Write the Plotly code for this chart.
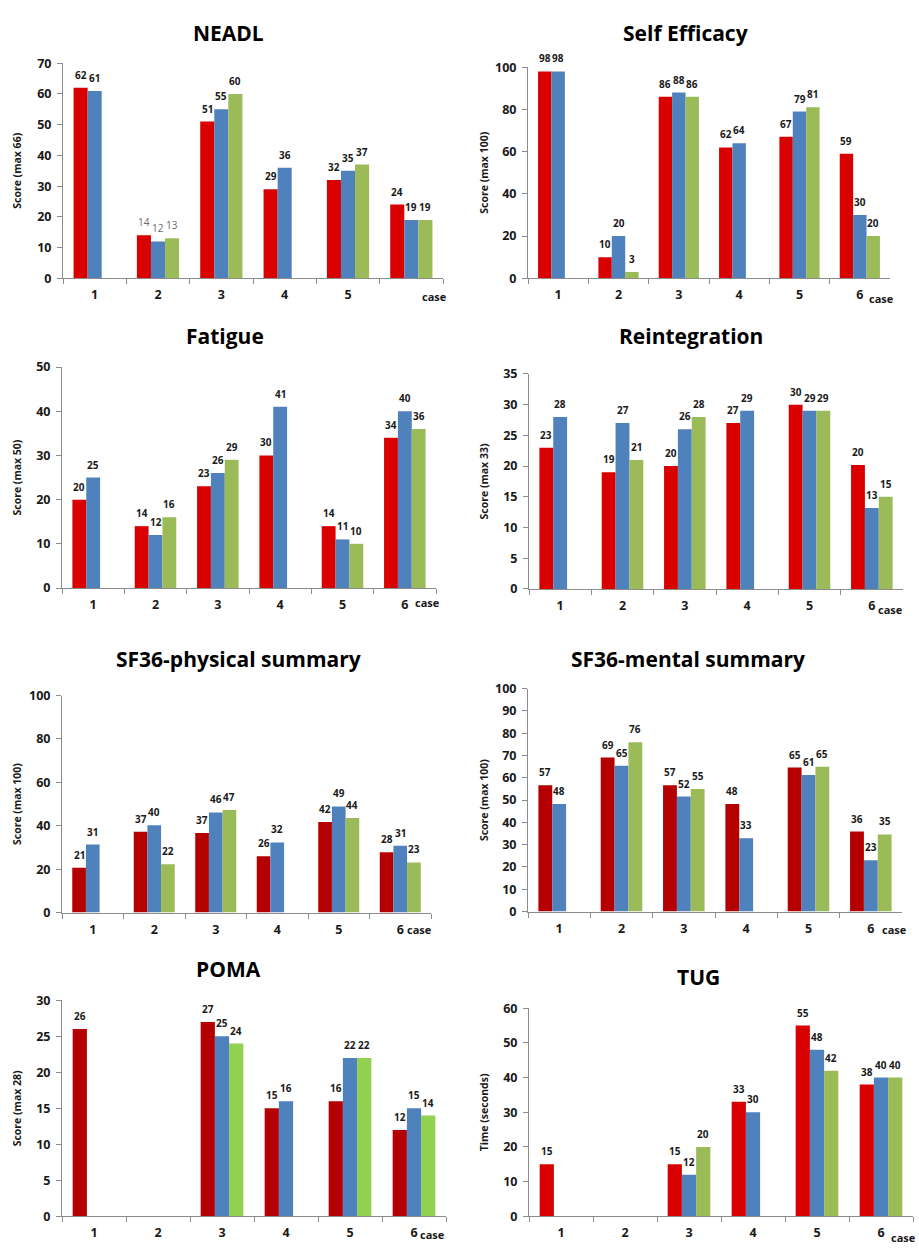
import plotly.graph_objects as go

W, H = 919, 1249

CASES = ["1", "2", "3", "4", "5", "6"]
NEADL_TICKS = ["1", "2", "3", "4", "5", ""]

TITLES = ["NEADL", "Self Efficacy", "Fatigue", "Reintegration",
          "SF36-physical summary", "SF36-mental summary", "POMA", "TUG"]
YTITLES = ["Score (max 66)", "Score (max 100)", "Score (max 50)", "Score (max 33)",
           "Score (max 100)", "Score (max 100)", "Score (max 28)", "Time (seconds)"]

NEADL_RED = [62, 14, 51, 29, 32, 24]
NEADL_BLUE = [61, 12, 55, 36, 35, 19]
NEADL_GREEN = [None, 13, 60, None, 37, 19]

SELF_RED = [98, 10, 86, 62, 67, 59]
SELF_BLUE = [98, 20, 88, 64, 79, 30]
SELF_GREEN = [None, 3, 86, None, 81, 20]

FATIGUE_RED = [20, 14, 23, 30, 14, 34]
FATIGUE_BLUE = [25, 12, 26, 41, 11, 40]
FATIGUE_GREEN = [None, 16, 29, None, 10, 36]

REINT_RED = [23, 19, 20, 27, 30, 20.2]
REINT_BLUE = [28, 27, 26, 29, 29, 13.2]
REINT_GREEN = [None, 21, 28, None, 29, 15]

SF36P_RED = [20.6, 37.2, 36.6, 25.9, 41.7, 27.8]
SF36P_BLUE = [31.3, 40.2, 46.1, 32.3, 48.9, 30.8]
SF36P_GREEN = [None, 22.3, 47.3, None, 43.6, 23.1]

SF36M_RED = [56.6, 69.1, 56.6, 48.2, 64.6, 35.9]
SF36M_BLUE = [48.2, 65.4, 51.6, 32.9, 61.2, 23.0]
SF36M_GREEN = [None, 75.9, 55.0, None, 64.9, 34.6]

POMA_RED = [26, None, 27, 15, 16, 12]
POMA_BLUE = [None, None, 25, 16, 22, 15]
POMA_GREEN = [None, None, 24, None, 22, 14]

TUG_RED = [15, None, 15, 33, 55, 38]
TUG_BLUE = [None, None, 12, 30, 48, 40]
TUG_GREEN = [None, None, 20, None, 42, 40]

SERIES = [
    (NEADL_RED, NEADL_BLUE, NEADL_GREEN),
    (SELF_RED, SELF_BLUE, SELF_GREEN),
    (FATIGUE_RED, FATIGUE_BLUE, FATIGUE_GREEN),
    (REINT_RED, REINT_BLUE, REINT_GREEN),
    (SF36P_RED, SF36P_BLUE, SF36P_GREEN),
    (SF36M_RED, SF36M_BLUE, SF36M_GREEN),
    (POMA_RED, POMA_BLUE, POMA_GREEN),
    (TUG_RED, TUG_BLUE, TUG_GREEN),
]
Y_MAX = [70, 100, 50, 35, 100, 100, 30, 60]
Y_STEP = [10, 20, 10, 5, 20, 10, 5, 10]
TICKS = [NEADL_TICKS, CASES, CASES, CASES, CASES, CASES, CASES, CASES]

# ---- styling / layout (pixel boxes of each plot area: x0, x1, ytop, ybottom)
BOXES = [
    (63, 443, 55, 273),
    (528, 890, 59, 273),
    (62, 436, 363, 587),
    (529, 903, 370, 588),
    (62, 431, 696, 916),
    (528, 902, 689, 915),
    (62, 446, 1005, 1224),
    (529, 913, 1013, 1224),
]
TITLE_POS = [(228, 24), (685, 24), (225, 332), (691, 332),
             (238, 659), (688, 659), (228, 973), (698, 981)]
# right edge of each "case" label
CASE_POS = [(449, 291), (896, 293), (442, 602), (905, 609),
            (434, 933), (909, 933), (447, 1242), (918, 1245)]

RED = "#D90000"
DARK_RED = "#B40000"
BLUE = "#4F81BD"
GREEN = "#9BBB59"
LIGHT_GREEN = "#92D050"
COLORS = [
    (RED, BLUE, GREEN), (RED, BLUE, GREEN), (RED, BLUE, GREEN), (RED, BLUE, GREEN),
    (DARK_RED, BLUE, GREEN), (DARK_RED, BLUE, GREEN), (DARK_RED, BLUE, LIGHT_GREEN),
    (RED, BLUE, GREEN),
]

FONT = "Open Sans"
TXT = "#1a1a1a"
GREY_TXT = "#6a6a6a"
AXIS = "#8c8c8c"
BARGAP = 1 / 3

fig = go.Figure()
annotations = []
layout = {}

for i in range(8):
    x0, x1, yt, yb = BOXES[i]
    sx = "" if i == 0 else str(i + 1)
    bar_px = (x1 - x0) / len(CASES) * (1 - BARGAP) / 3
    for k, (vals, col) in enumerate(zip(SERIES[i], COLORS[i])):
        fig.add_trace(go.Bar(
            x=CASES, y=vals, marker=dict(color=col, line=dict(width=0)),
            xaxis="x" + sx, yaxis="y" + sx,
            showlegend=False, hoverinfo="skip",
        ))
        # data labels (x given as category index)
        for j, v in enumerate(vals):
            if v is None:
                continue
            grey = (i == 0 and j == 1)
            annotations.append(dict(
                text=f"{v:.0f}", x=j, y=v, xref="x" + sx, yref="y" + sx,
                xanchor="center", yanchor="bottom", showarrow=False,
                xshift=(k - 1) * bar_px, yshift=4,
                font=dict(family=FONT, size=10,
                          weight="normal" if grey else "bold",
                          color=GREY_TXT if grey else TXT),
            ))
    layout["xaxis" + sx] = dict(
        domain=[x0 / W, x1 / W], anchor="y" + sx, type="category",
        categoryorder="array", categoryarray=CASES,
        range=[-0.5, len(CASES) - 0.5], autorange=False,
        tickmode="array", tickvals=CASES, ticktext=TICKS[i],
        showline=True, linecolor=AXIS, linewidth=1,
        ticks="outside", tickson="boundaries", ticklen=5, tickcolor=AXIS,
        tickfont=dict(family=FONT, size=12.5, weight="bold", color=TXT),
        ticklabelstandoff=5, showgrid=False, zeroline=False, fixedrange=True,
    )
    layout["yaxis" + sx] = dict(
        domain=[1 - yb / H, 1 - yt / H], anchor="x" + sx,
        range=[0, Y_MAX[i]], autorange=False, dtick=Y_STEP[i], tick0=0,
        showline=True, linecolor=AXIS, linewidth=1,
        ticks="outside", ticklen=5, tickcolor=AXIS,
        tickfont=dict(family=FONT, size=12.5, weight="bold", color=TXT),
        ticklabelstandoff=3, showgrid=False, zeroline=False, fixedrange=True,
    )
    tx, ty = TITLE_POS[i]
    annotations.append(dict(
        text=TITLES[i], x=tx / W, y=1 - ty / H, xref="paper", yref="paper",
        xanchor="center", yanchor="middle", showarrow=False,
        font=dict(family=FONT, size=21, weight="bold", color="#000000"),
    ))
    ax = 17 if x0 < 300 else 484
    annotations.append(dict(
        text=YTITLES[i], x=ax / W, y=1 - ((yt + yb) / 2) / H, xref="paper", yref="paper",
        xanchor="center", yanchor="middle", textangle=-90, showarrow=False,
        font=dict(family=FONT, size=10.5, weight="bold", color=TXT),
    ))
    cx, cy = CASE_POS[i]
    annotations.append(dict(
        text="case", x=cx / W, y=1 - cy / H, xref="paper", yref="paper",
        xanchor="right", yanchor="middle", showarrow=False,
        font=dict(family=FONT, size=11, weight="bold", color=TXT),
    ))

fig.update_layout(
    width=W, height=H, margin=dict(l=0, r=0, t=0, b=0),
    paper_bgcolor="white", plot_bgcolor="white",
    barmode="group", bargap=BARGAP, bargroupgap=0,
    annotations=annotations, **layout,
)

fig.write_html("out.html", config={"displayModeBar": False},
               post_script="document.body.style.margin='0px';")
